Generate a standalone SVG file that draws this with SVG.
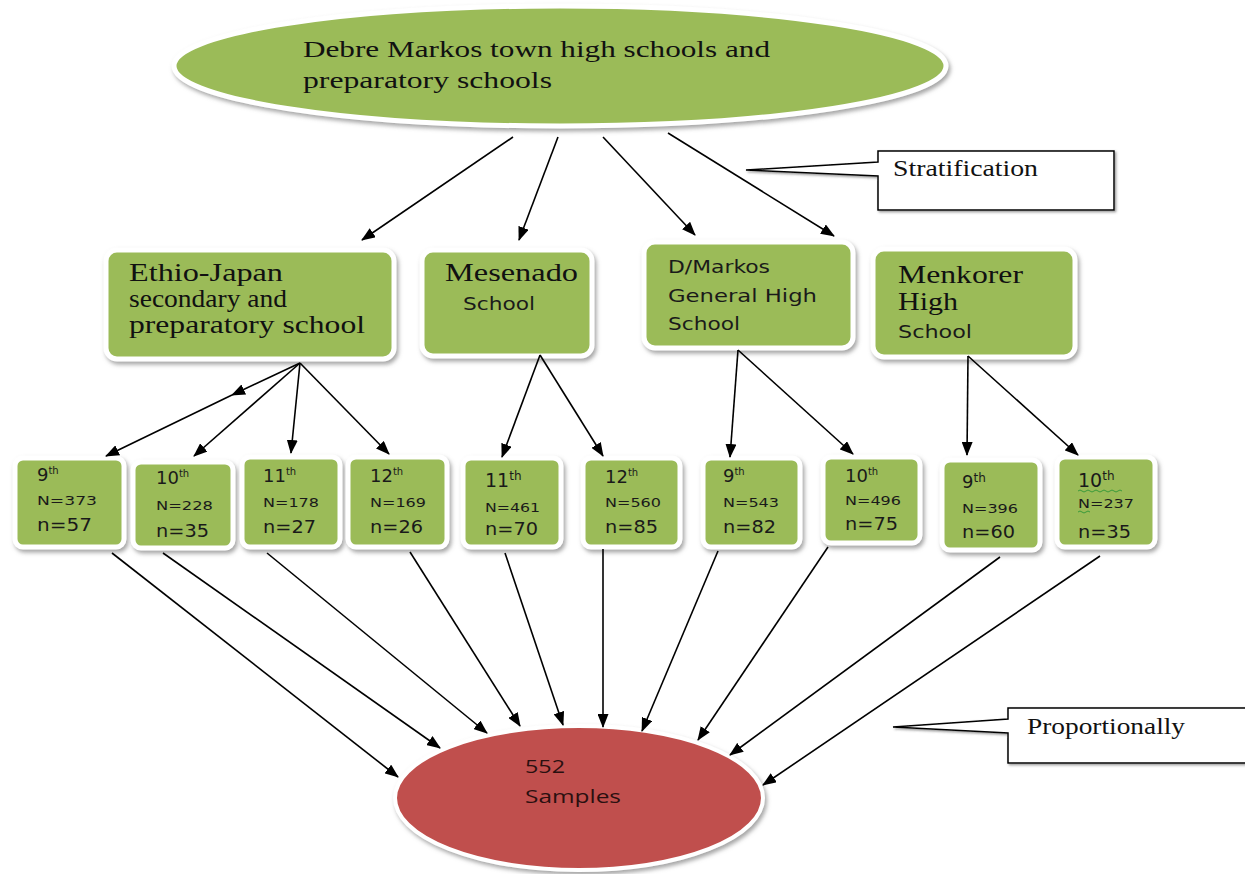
<svg xmlns="http://www.w3.org/2000/svg" width="1245" height="874" viewBox="0 0 1245 874">
<defs>
<filter id="sh" x="-10%" y="-10%" width="125%" height="130%">
<feDropShadow dx="2" dy="3" stdDeviation="2" flood-color="#7f7f7f" flood-opacity="0.7"/>
</filter>
<filter id="csh" x="-5%" y="-10%" width="115%" height="130%">
<feDropShadow dx="1.5" dy="1.5" stdDeviation="0.8" flood-color="#555" flood-opacity="0.6"/>
</filter>
<marker id="ah" viewBox="0 0 14 11" refX="13" refY="5.5" markerWidth="14" markerHeight="11" markerUnits="userSpaceOnUse" orient="auto">
<path d="M0,0 L14,5.5 L0,11 Z" fill="#000"/>
</marker>
</defs>
<style>
.g{fill:#9bbb59;stroke:#fff;stroke-width:5;filter:url(#sh)}
.r{fill:#c0504d;stroke:#fff;stroke-width:4;filter:url(#sh)}
.c{fill:#fff;stroke:#000;stroke-width:1.5;filter:url(#csh)}
.ser{font-family:"Liberation Serif","Times New Roman",serif;fill:#111}
.san{font-family:"DejaVu Sans",Verdana,sans-serif;fill:#1a1a1a}
.big{font-size:18px}
.sup{font-size:10px}
.nn{font-size:13px}
.sm{font-size:17px}
.con line{stroke:#000;stroke-width:1.6;marker-end:url(#ah)}
</style>

<g id="top">
<ellipse class="g" cx="560" cy="66" rx="386" ry="60"/>
<text class="ser" font-size="24" x="303" y="57" textLength="467" lengthAdjust="spacingAndGlyphs">Debre Markos town high schools and</text>
<text class="ser" font-size="24" x="303" y="88" textLength="249" lengthAdjust="spacingAndGlyphs">preparatory schools</text>
</g>

<g id="stratification">
<path class="c" d="M878,151 H1114 V210 H878 V176 L746,170 L878,162 Z"/>
<text class="ser" font-size="23" x="893" y="176" textLength="145" lengthAdjust="spacingAndGlyphs">Stratification</text>
</g>

<g id="ethio">
<rect class="g" x="106" y="250" width="288" height="109" rx="11"/>
<text class="ser" font-size="25" x="129" y="281" textLength="154" lengthAdjust="spacingAndGlyphs">Ethio-Japan</text>
<text class="ser" font-size="25" x="129" y="307" textLength="158" lengthAdjust="spacingAndGlyphs">secondary and</text>
<text class="ser" font-size="25" x="129" y="333" textLength="236" lengthAdjust="spacingAndGlyphs">preparatory school</text>
</g>

<g id="mesenado">
<rect class="g" x="422" y="250" width="170" height="106" rx="11"/>
<text class="ser" font-size="25" x="445" y="281" textLength="133" lengthAdjust="spacingAndGlyphs">Mesenado</text>
<text class="san" font-size="17" x="463" y="310" textLength="72" lengthAdjust="spacingAndGlyphs">School</text>
</g>

<g id="dmarkos">
<rect class="g" x="644" y="242" width="209" height="106" rx="11"/>
<text class="san" font-size="17" x="668" y="273" textLength="102" lengthAdjust="spacingAndGlyphs">D/Markos</text>
<text class="san" font-size="17" x="668" y="302" textLength="149" lengthAdjust="spacingAndGlyphs">General High</text>
<text class="san" font-size="17" x="668" y="330" textLength="72" lengthAdjust="spacingAndGlyphs">School</text>
</g>

<g id="menkorer">
<rect class="g" x="873" y="249" width="202" height="108" rx="11"/>
<text class="ser" font-size="25" x="898" y="283" textLength="125" lengthAdjust="spacingAndGlyphs">Menkorer</text>
<text class="ser" font-size="25" x="898" y="310" textLength="60" lengthAdjust="spacingAndGlyphs">High</text>
<text class="san" font-size="17" x="898" y="338" textLength="74" lengthAdjust="spacingAndGlyphs">School</text>
</g>

<g id="g1">
<rect class="g" x="15" y="458" width="109" height="89" rx="8"/>
<text class="san big" x="37" y="481">9<tspan class="sup" dy="-7">th</tspan></text>
<text class="san nn" x="37" y="505" textLength="60" lengthAdjust="spacingAndGlyphs">N=373</text>
<text class="san sm" x="37" y="531" textLength="55" lengthAdjust="spacingAndGlyphs">n=57</text>
</g>
<g id="g2">
<rect class="g" x="133" y="462" width="100" height="86" rx="8"/>
<text class="san big" x="156" y="484">10<tspan class="sup" dy="-7">th</tspan></text>
<text class="san nn" x="156" y="510" textLength="57" lengthAdjust="spacingAndGlyphs">N=228</text>
<text class="san sm" x="156" y="537" textLength="53" lengthAdjust="spacingAndGlyphs">n=35</text>
</g>
<g id="g3">
<rect class="g" x="242" y="457" width="98" height="90" rx="8"/>
<text class="san big" x="263" y="482">11<tspan class="sup" dy="-7">th</tspan></text>
<text class="san nn" x="263" y="507" textLength="56" lengthAdjust="spacingAndGlyphs">N=178</text>
<text class="san sm" x="263" y="533" textLength="53" lengthAdjust="spacingAndGlyphs">n=27</text>
</g>
<g id="g4">
<rect class="g" x="348" y="457" width="99" height="90" rx="8"/>
<text class="san big" x="370" y="482">12<tspan class="sup" dy="-7">th</tspan></text>
<text class="san nn" x="370" y="507" textLength="56" lengthAdjust="spacingAndGlyphs">N=169</text>
<text class="san sm" x="370" y="533" textLength="53" lengthAdjust="spacingAndGlyphs">n=26</text>
</g>
<g id="g5">
<rect class="g" x="463" y="458" width="98" height="89" rx="8"/>
<text class="san" font-size="19" x="485" y="487">11<tspan font-size="12" dy="-7">th</tspan></text>
<text class="san nn" x="485" y="512" textLength="55" lengthAdjust="spacingAndGlyphs">N=461</text>
<text class="san sm" x="485" y="535" textLength="53" lengthAdjust="spacingAndGlyphs">n=70</text>
</g>
<g id="g6">
<rect class="g" x="583" y="458" width="97" height="89" rx="8"/>
<text class="san big" x="605" y="483">12<tspan class="sup" dy="-7">th</tspan></text>
<text class="san nn" x="605" y="507" textLength="56" lengthAdjust="spacingAndGlyphs">N=560</text>
<text class="san sm" x="605" y="533" textLength="53" lengthAdjust="spacingAndGlyphs">n=85</text>
</g>
<g id="g7">
<rect class="g" x="703" y="458" width="97" height="89" rx="8"/>
<text class="san big" x="723" y="482">9<tspan class="sup" dy="-7">th</tspan></text>
<text class="san nn" x="723" y="507" textLength="56" lengthAdjust="spacingAndGlyphs">N=543</text>
<text class="san sm" x="723" y="533" textLength="53" lengthAdjust="spacingAndGlyphs">n=82</text>
</g>
<g id="g8">
<rect class="g" x="823" y="457" width="97" height="86" rx="8"/>
<text class="san big" x="845" y="482">10<tspan class="sup" dy="-7">th</tspan></text>
<text class="san nn" x="845" y="505" textLength="56" lengthAdjust="spacingAndGlyphs">N=496</text>
<text class="san sm" x="845" y="530" textLength="53" lengthAdjust="spacingAndGlyphs">n=75</text>
</g>
<g id="g9">
<rect class="g" x="942" y="460" width="98" height="90" rx="8"/>
<text class="san" font-size="18" x="962" y="488">9<tspan font-size="12" dy="-6">th</tspan></text>
<text class="san nn" x="962" y="513" textLength="56" lengthAdjust="spacingAndGlyphs">N=396</text>
<text class="san sm" x="962" y="538" textLength="53" lengthAdjust="spacingAndGlyphs">n=60</text>
</g>
<g id="g10">
<rect class="g" x="1057" y="457" width="98" height="90" rx="8"/>
<text class="san" font-size="19" x="1078" y="487">10<tspan font-size="12" dy="-7">th</tspan></text>
<path d="M1078,491 q2,-2 4,0 t4,0 t4,0 t4,0 t4,0 t4,0 t4,0 t4,0 t4,0 t4,0 t4,0" fill="none" stroke="#3a9a3a" stroke-width="1"/>
<text class="san nn" x="1078" y="508" textLength="56" lengthAdjust="spacingAndGlyphs">N=237</text>
<path d="M1078,512 q2,-2 4,0 t4,0 t4,0" fill="none" stroke="#3a9a3a" stroke-width="1"/>
<text class="san sm" x="1078" y="538" textLength="53" lengthAdjust="spacingAndGlyphs">n=35</text>
</g>

<g id="samples">
<ellipse class="r" cx="579" cy="798" rx="184" ry="72"/>
<text font-family="'Open Sans','DejaVu Sans',sans-serif" font-size="19" fill="#2a1010" x="525" y="773" textLength="40" lengthAdjust="spacingAndGlyphs">552</text>
<text font-family="'Open Sans','DejaVu Sans',sans-serif" font-size="19" fill="#2a1010" x="525" y="803" textLength="96" lengthAdjust="spacingAndGlyphs">Samples</text>
</g>

<g id="proportionally">
<path class="c" d="M1008,708 H1252 V763 H1008 V733 L893,727 L1008,719 Z"/>
<text class="ser" font-size="24" x="1027" y="734" textLength="158" lengthAdjust="spacingAndGlyphs">Proportionally</text>
</g>

<g id="connectors" class="con">
<line x1="513" y1="137" x2="362" y2="240"/>
<line x1="558" y1="137" x2="519" y2="240"/>
<line x1="603" y1="137" x2="695" y2="235"/>
<line x1="668" y1="133" x2="834" y2="236"/>

<line x1="300" y1="363" x2="232" y2="395"/>
<line x1="232" y1="395" x2="106" y2="456"/>
<line x1="300" y1="363" x2="194" y2="456"/>
<line x1="300" y1="363" x2="291" y2="453"/>
<line x1="300" y1="363" x2="389" y2="454"/>

<line x1="540" y1="355" x2="502" y2="457"/>
<line x1="540" y1="355" x2="603" y2="456"/>
<line x1="738" y1="350" x2="730" y2="457"/>
<line x1="738" y1="350" x2="853" y2="454"/>
<line x1="968" y1="356" x2="967" y2="455"/>
<line x1="968" y1="356" x2="1078" y2="455"/>

<line x1="112" y1="553" x2="398" y2="777"/>
<line x1="163" y1="553" x2="440" y2="748"/>
<line x1="267" y1="553" x2="487" y2="733"/>
<line x1="410" y1="552" x2="520" y2="726"/>
<line x1="505" y1="553" x2="563" y2="725"/>
<line x1="603" y1="549" x2="603" y2="727"/>
<line x1="718" y1="551" x2="642" y2="731"/>
<line x1="828" y1="547" x2="698" y2="740"/>
<line x1="1000" y1="557" x2="730" y2="755"/>
<line x1="1100" y1="556" x2="763" y2="785"/>
</g>
</svg>
